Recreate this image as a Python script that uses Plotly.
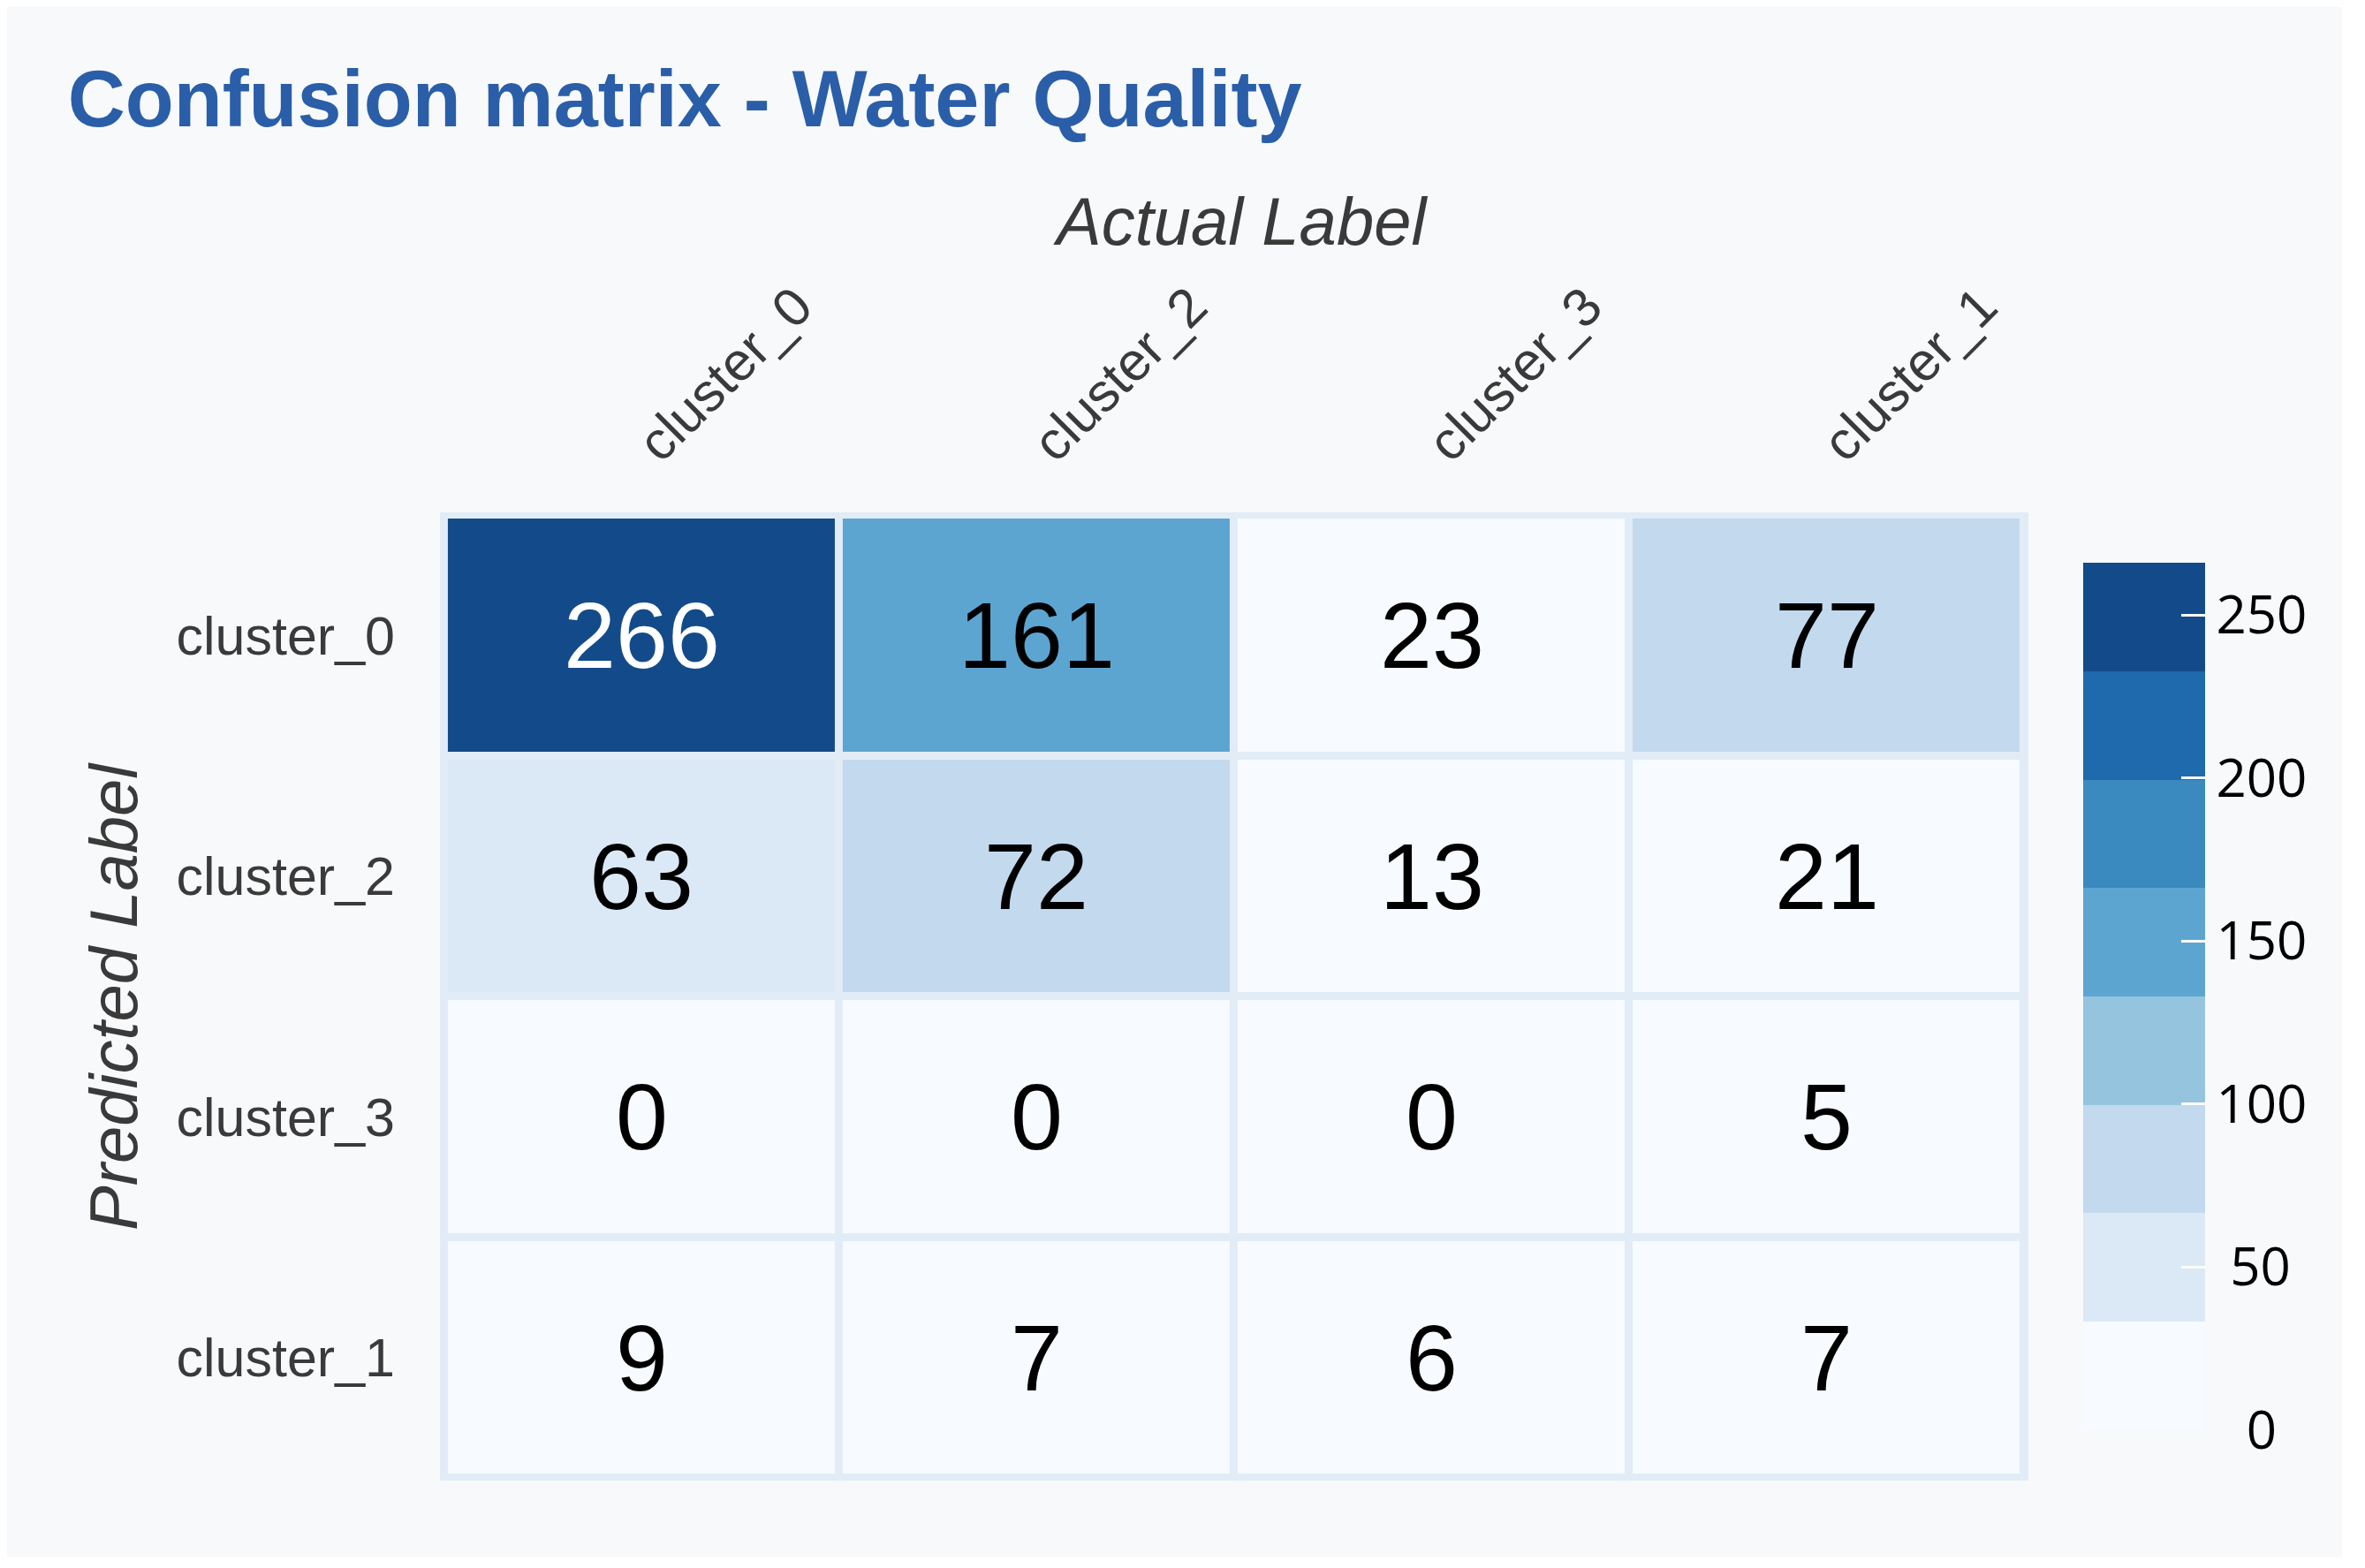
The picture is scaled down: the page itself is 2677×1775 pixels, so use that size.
"""Confusion matrix heatmap - Water Quality"""

import plotly.graph_objects as go

actual_labels = ['cluster_0', 'cluster_2', 'cluster_3', 'cluster_1']
predicted_labels = ['cluster_0', 'cluster_2', 'cluster_3', 'cluster_1']

row_cluster_0 = [266, 161, 23, 77]
row_cluster_2 = [63, 72, 13, 21]
row_cluster_3 = [0, 0, 0, 5]
row_cluster_1 = [9, 7, 6, 7]
counts = [row_cluster_0, row_cluster_2, row_cluster_3, row_cluster_1]

colorbar_ticks = [0, 50, 100, 150, 200, 250]
# labels centred under the 3-digit ones (figure / punctuation spaces)
colorbar_ticktext = ['\u20070', '\u200850', '100', '150', '200', '250']

# 8 discrete steps of the Blues palette
bins = ['#f7fbff', '#dbe9f6', '#c2d9ee', '#95c4df',
        '#5da5d1', '#3a8ac0', '#1f6aad', '#134b8a']
colorscale = []
for i, c in enumerate(bins):
    colorscale.append([i / len(bins), c])
    colorscale.append([(i + 1) / len(bins), c])

SANS = 'Liberation Sans, Arial, Helvetica, sans-serif'
zmax = max(max(r) for r in counts)

fig = go.Figure(go.Heatmap(
    z=counts,
    x=actual_labels,
    y=predicted_labels,
    zmin=0,
    zmax=zmax,
    colorscale=colorscale,
    xgap=9,
    ygap=9,
    hoverongaps=False,
    colorbar=dict(
        x=1.0345, xanchor='left', y=0.5, yanchor='middle',
        len=0.896, thickness=138, xpad=0, ypad=0,
        outlinewidth=0,
        tickvals=colorbar_ticks,
        ticktext=colorbar_ticktext,
        ticks='inside', ticklen=27, tickwidth=3, tickcolor='white',
        tickfont=dict(family='Open Sans, sans-serif', size=60, color='black'),
    ),
))

# cell values
for i, row in enumerate(counts):
    for j, v in enumerate(row):
        fig.add_annotation(
            x=actual_labels[j], y=predicted_labels[i], text=str(v),
            showarrow=False,
            font=dict(family=SANS, size=106,
                      color='white' if v > zmax * 0.75 else 'black'),
        )

fig.add_annotation(x=0.504, y=1.301, xref='paper', yref='paper',
                   xanchor='center', yanchor='middle',
                   text='Actual Label', showarrow=False,
                   font=dict(family=SANS, size=76, color='#3a3a3a', style='italic'))
fig.add_annotation(x=-0.2058, y=0.5, xref='paper', yref='paper',
                   xanchor='center', yanchor='middle',
                   text='Predicted Label', textangle=-90, showarrow=False,
                   font=dict(family=SANS, size=76, color='#3a3a3a', style='italic'))

fig.update_xaxes(side='top', tickangle=-45, ticklabelstandoff=32,
                 range=[-0.511, 3.511], showgrid=False, zeroline=False,
                 tickfont=dict(family=SANS, size=61, color='#3a3a3a'))
fig.update_yaxes(range=[3.511, -0.511], ticklabelstandoff=50,
                 showgrid=False, zeroline=False,
                 tickfont=dict(family=SANS, size=61, color='#3a3a3a'))

fig.update_layout(
    width=2643, height=1755,
    margin=dict(l=490, r=355, t=572, b=87),
    paper_bgcolor='#f8f9fb',
    plot_bgcolor='#e2ecf6',
    title=dict(text='<b>Confusion matrix - Water Quality</b>',
               x=0.026, xanchor='left', y=0.941, yanchor='middle',
               font=dict(family=SANS, size=90, color='#2a5ea8')),
)

fig.write_html("out.html")
